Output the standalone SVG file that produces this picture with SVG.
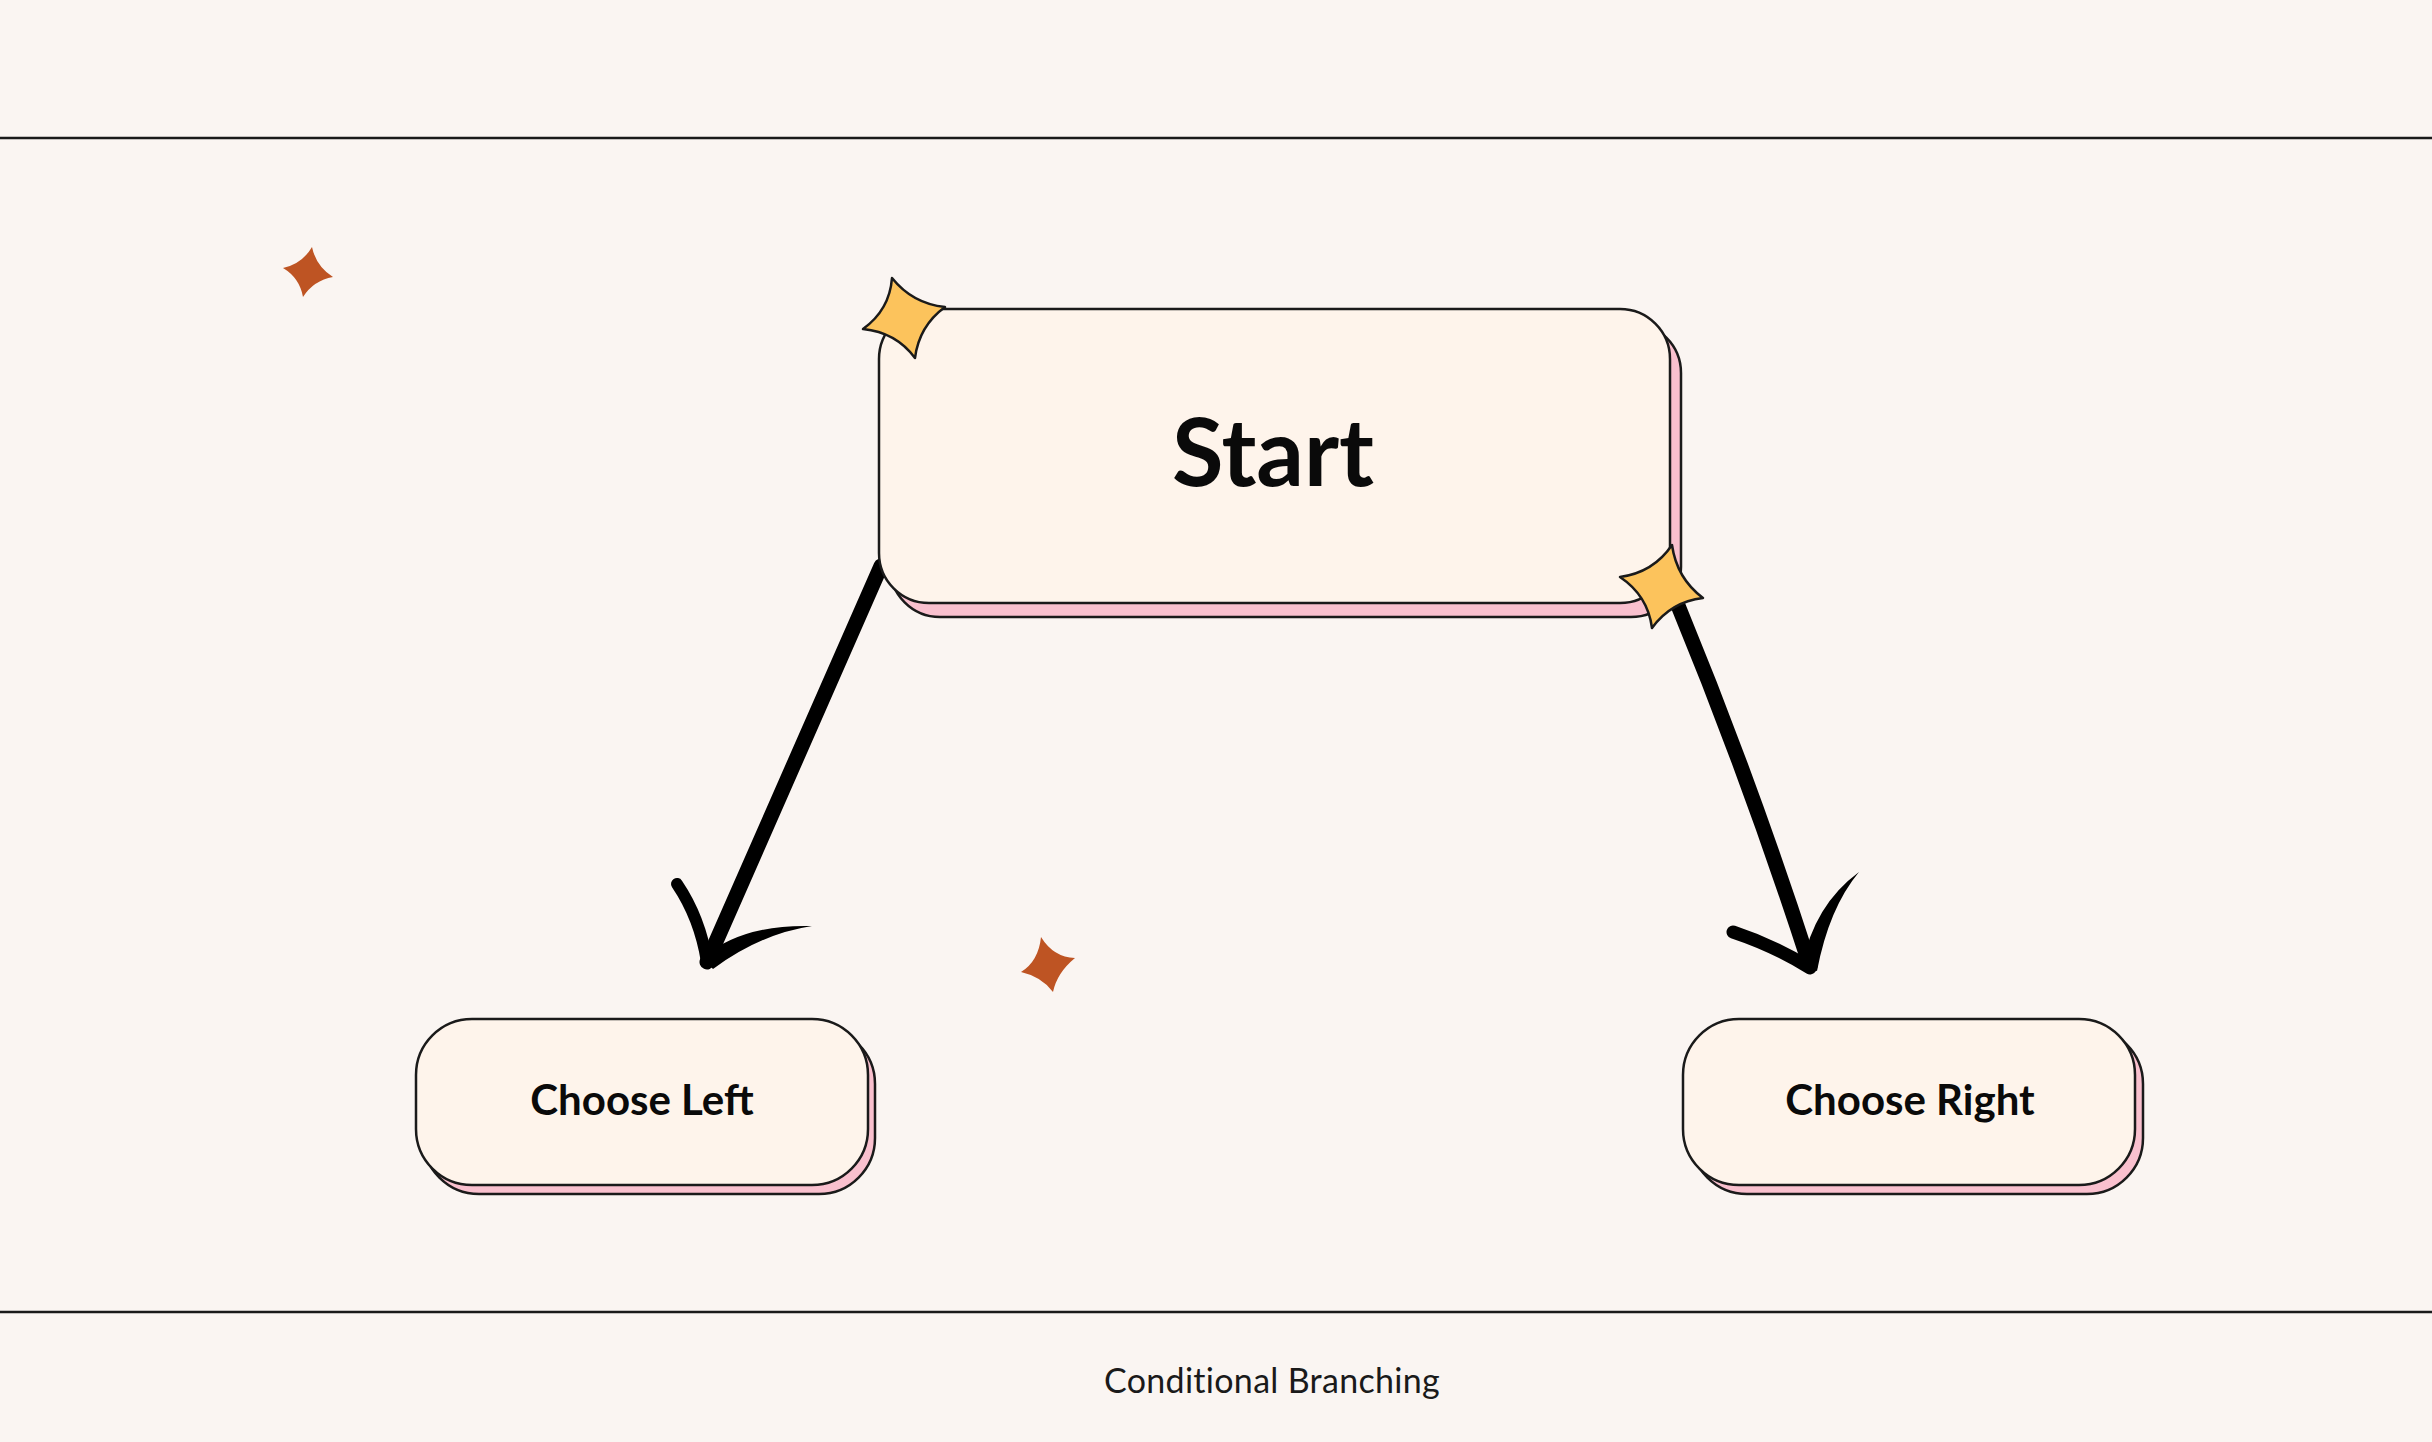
<svg xmlns="http://www.w3.org/2000/svg" width="2432" height="1442" viewBox="0 0 2432 1442">
  <style>
    .bg { fill: #FAF5F2; }
    .rule { stroke: #1A1A1A; stroke-width: 2.5; }
    .box { fill: #FEF4EB; stroke: #1A1A1A; stroke-width: 2.5; }
    .shadow { fill: #F9C0CE; stroke: #1A1A1A; stroke-width: 2.5; }
    .label { font-family: Lato, "Liberation Sans", sans-serif; font-weight: 700; fill: #0A0A0A; text-anchor: middle; }
    .caption { font-family: Lato, "Liberation Sans", sans-serif; font-weight: 400; fill: #1A1A1A; text-anchor: middle; font-size: 34px; letter-spacing: 0.3px; }
    .shaft { fill: none; stroke: #000; stroke-linecap: round; stroke-linejoin: round; }
    .barb { fill: #000; }
    .ystar { fill: #FCC35C; stroke: #1A1A1A; stroke-width: 2.5; stroke-linejoin: round; }
    .ostar { fill: #BE5423; }
  </style>
  <rect class="bg" x="0" y="0" width="2432" height="1442"/>
  <line class="rule" x1="0" y1="138" x2="2432" y2="138"/>
  <line class="rule" x1="0" y1="1312" x2="2432" y2="1312"/>

  <g id="connectors">
    <g id="edge-start-left">
      <path class="shaft" stroke-width="15" d="M881,566 L707,962"/>
      <path class="shaft" stroke-width="12" d="M677,884 Q700,918 707,962"/>
      <path class="barb" d="M702,958 Q742,924 812,926 Q760,934 713,969 Z"/>
    </g>
    <g id="edge-start-right">
      <path class="shaft" stroke-width="15" d="M1677,603 Q1750,780 1810,966"/>
      <path class="shaft" stroke-width="13" d="M1733,932 Q1775,946 1810,968"/>
      <path class="barb" d="M1802,966 Q1814,905 1859,872 Q1829,908 1817,971 Z"/>
    </g>
  </g>

  <g id="node-start">
    <rect class="shadow" x="890" y="323" width="791" height="294" rx="50"/>
    <rect class="box" x="879" y="309" width="791" height="294" rx="50"/>
    <text class="label" x="1273" y="486" font-size="94">Start</text>
  </g>

  <g id="node-choose-left">
    <rect class="shadow" x="423" y="1028" width="452" height="166" rx="56"/>
    <rect class="box" x="416" y="1019" width="452" height="166" rx="56"/>
    <text class="label" x="642" y="1115" font-size="42">Choose Left</text>
  </g>

  <g id="node-choose-right">
    <rect class="shadow" x="1691" y="1028" width="452" height="166" rx="56"/>
    <rect class="box" x="1683" y="1019" width="452" height="166" rx="56"/>
    <text class="label" x="1910" y="1115" font-size="42">Choose Right</text>
  </g>

  <g id="decorations">
    <path class="ystar" d="M892,278 Q912.6,303.7 945,307 Q919,326.1 915,358 Q896,332.3 863,329 Q889.6,309.9 892,278 Z"/>
    <path class="ystar" d="M1672,545 Q1676.7,578.3 1703,598 Q1671.1,601.6 1652,628 Q1647.9,595.7 1620,577 Q1653.5,572.4 1672,545 Z"/>
    <path class="ostar" d="M312,247 Q316.1,266.4 333,277 Q313.6,280.4 303,297 Q299.6,277.9 283,268 Q302.1,263.9 312,247 Z"/>
    <path class="ostar" d="M1041,937 Q1053.6,957.4 1075,958 Q1057,972.8 1053,992 Q1041.8,976.7 1021,972 Q1038.5,961.3 1041,937 Z"/>
  </g>

  <text class="caption" x="1272" y="1393">Conditional Branching</text>
</svg>
